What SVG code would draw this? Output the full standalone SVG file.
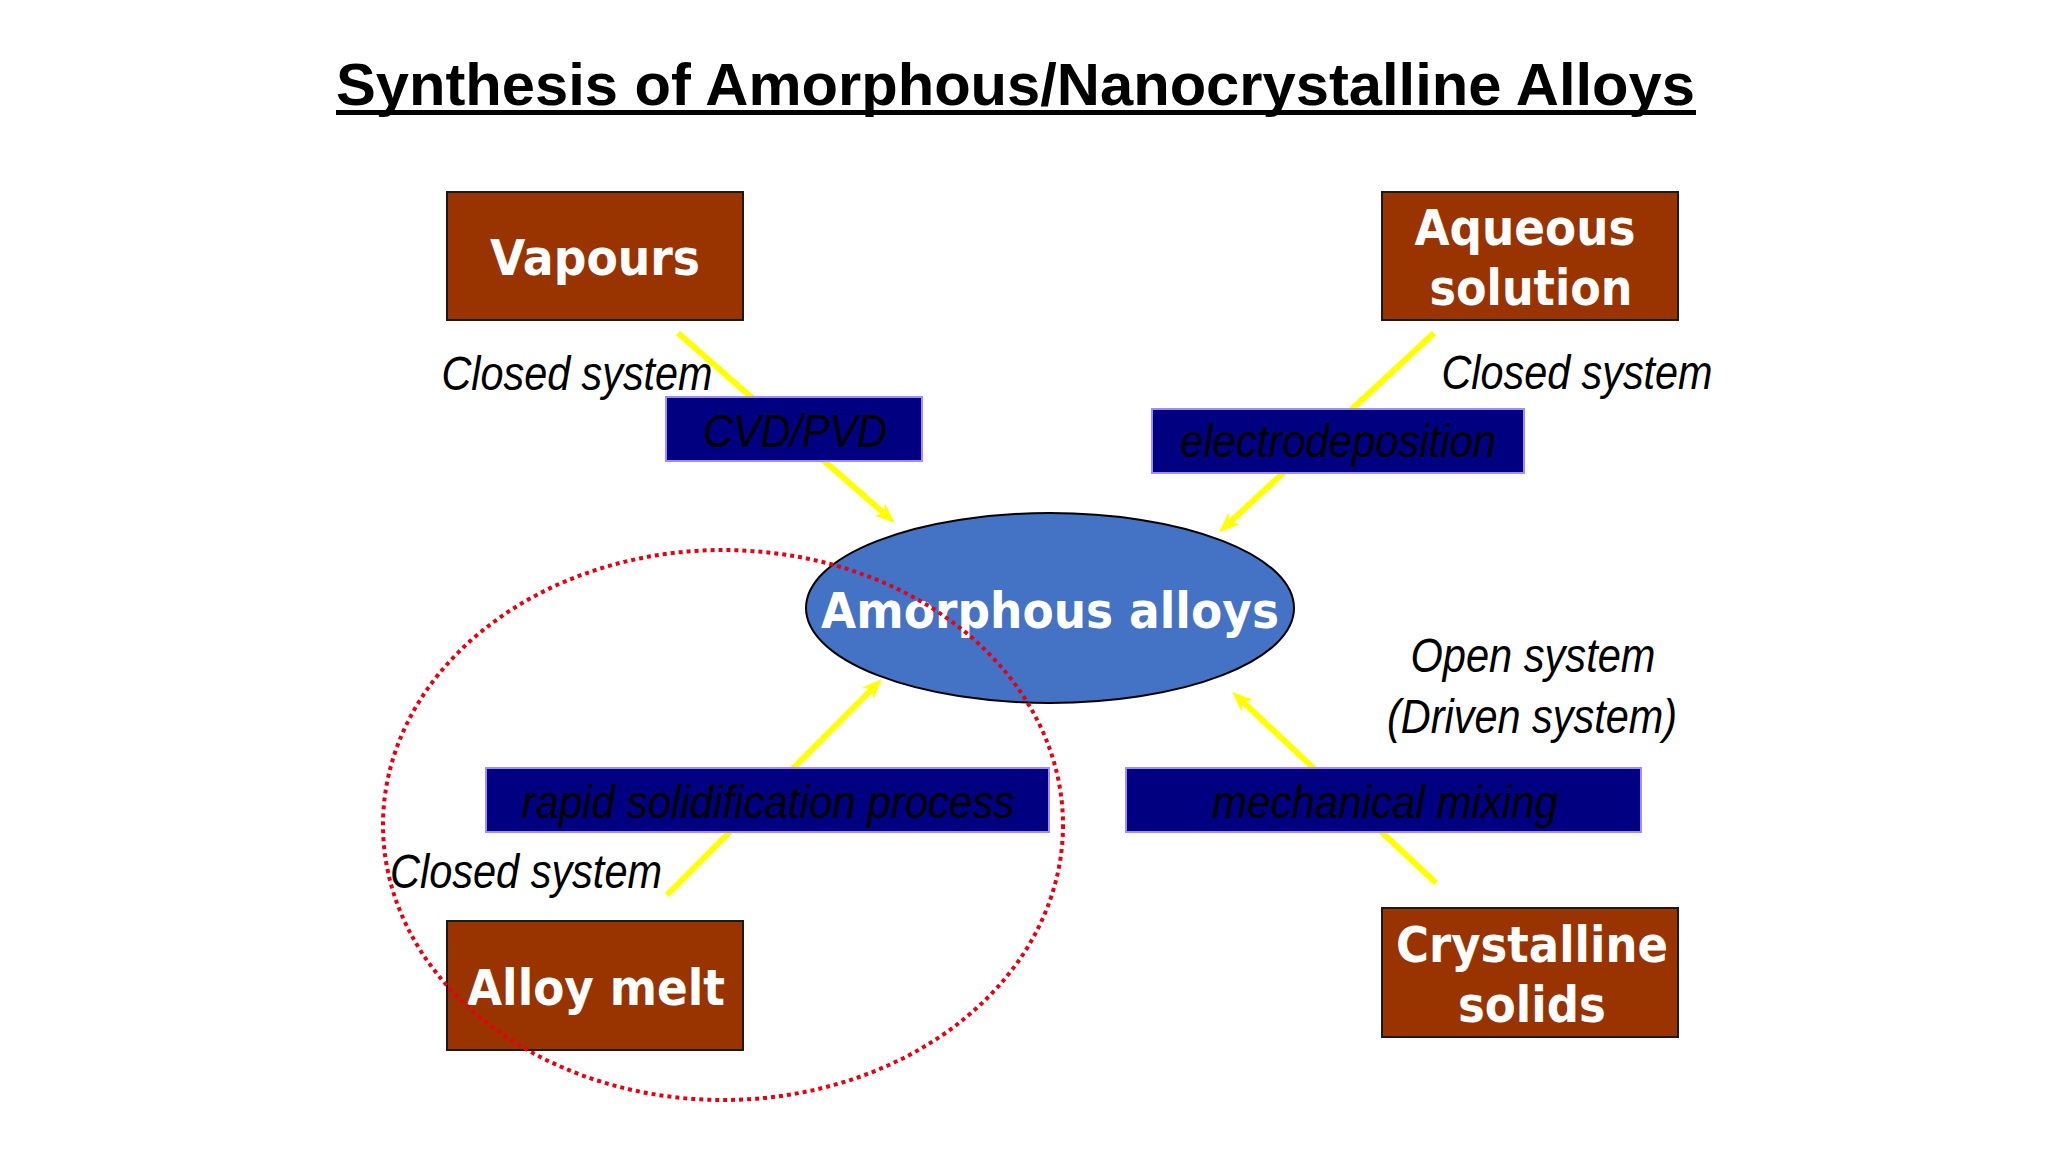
<svg xmlns="http://www.w3.org/2000/svg" width="2048" height="1152" viewBox="0 0 2048 1152">
  <style>
    .title { font-family: "Liberation Sans", Arial, sans-serif; font-weight: bold; font-size: 60px; fill: #000; }
    .box { fill: #993300; stroke: #1a1a1a; stroke-width: 2; }
    .boxtext { font-family: "DejaVu Sans", Verdana, sans-serif; font-weight: bold; font-size: 50px; fill: #fff; text-anchor: middle; }
    .proc { fill: #000080; stroke: #a08cff; stroke-width: 2; }
    .proctext { font-family: "Liberation Sans Narrow", "Liberation Sans", Arial, sans-serif; font-style: italic; font-size: 47px; fill: #000; text-anchor: middle; }
    .label { font-family: "Liberation Sans Narrow", "Liberation Sans", Arial, sans-serif; font-style: italic; font-size: 48px; fill: #000; text-anchor: middle; }
    .conn { stroke: #ffff00; stroke-width: 6; fill: none; marker-end: url(#arrow); }
  </style>
  <defs>
    <marker id="arrow" markerUnits="userSpaceOnUse" viewBox="0 0 20 16" markerWidth="20" markerHeight="16" refX="8" refY="8" orient="auto">
      <path d="M0,0 L20,8 L0,16 L5,8 z" fill="#ffff00"/>
    </marker>
  </defs>
  <rect width="2048" height="1152" fill="#ffffff"/>

  <g id="title">
    <text class="title" x="336" y="105" textLength="1359" lengthAdjust="spacingAndGlyphs">Synthesis of Amorphous/Nanocrystalline Alloys</text>
    <rect x="336" y="110" width="1360" height="5" fill="#000"/>
  </g>

  <g id="connectors">
    <line class="conn" x1="678" y1="333" x2="886" y2="515"/>
    <line class="conn" x1="1434" y1="333" x2="1228" y2="524"/>
    <line class="conn" x1="667" y1="895" x2="873.5" y2="687.5"/>
    <line class="conn" x1="1436" y1="883" x2="1241" y2="700"/>
  </g>

  <g id="vapours">
    <rect class="box" x="447" y="192" width="296" height="128"/>
    <text class="boxtext" x="595" y="275" textLength="210" lengthAdjust="spacingAndGlyphs">Vapours</text>
  </g>

  <g id="aqueous-solution">
    <rect class="box" x="1382" y="192" width="296" height="128"/>
    <text class="boxtext" x="1525" y="245" textLength="221" lengthAdjust="spacingAndGlyphs">Aqueous</text>
    <text class="boxtext" x="1531" y="305" textLength="203" lengthAdjust="spacingAndGlyphs">solution</text>
  </g>

  <g id="alloy-melt">
    <rect class="box" x="447" y="921" width="296" height="129"/>
    <text class="boxtext" x="596" y="1005" textLength="258" lengthAdjust="spacingAndGlyphs">Alloy melt</text>
  </g>

  <g id="crystalline-solids">
    <rect class="box" x="1382" y="908" width="296" height="129"/>
    <text class="boxtext" x="1532" y="962" textLength="272" lengthAdjust="spacingAndGlyphs">Crystalline</text>
    <text class="boxtext" x="1532" y="1022" textLength="148" lengthAdjust="spacingAndGlyphs">solids</text>
  </g>

  <g id="amorphous-alloys">
    <ellipse cx="1050" cy="608" rx="244" ry="95" fill="#4472c4" stroke="#000" stroke-width="2"/>
    <text class="boxtext" x="1050" y="628" font-size="52" textLength="458" lengthAdjust="spacingAndGlyphs">Amorphous alloys</text>
  </g>

  <g id="cvd-pvd">
    <rect class="proc" x="666" y="397" width="256" height="64"/>
    <text class="proctext" x="795" y="447" textLength="184" lengthAdjust="spacingAndGlyphs">CVD/PVD</text>
  </g>

  <g id="electrodeposition">
    <rect class="proc" x="1152" y="409" width="372" height="64"/>
    <text class="proctext" x="1338" y="457" textLength="316" lengthAdjust="spacingAndGlyphs">electrodeposition</text>
  </g>

  <g id="rapid-solidification">
    <rect class="proc" x="486" y="768" width="563" height="64"/>
    <text class="proctext" x="768" y="818" textLength="493" lengthAdjust="spacingAndGlyphs">rapid solidification process</text>
  </g>

  <g id="mechanical-mixing">
    <rect class="proc" x="1126" y="768" width="515" height="64"/>
    <text class="proctext" x="1385" y="818" textLength="346" lengthAdjust="spacingAndGlyphs">mechanical mixing</text>
  </g>

  <g id="labels">
    <text class="label" x="577" y="390" textLength="271" lengthAdjust="spacingAndGlyphs">Closed system</text>
    <text class="label" x="1577" y="389" textLength="271" lengthAdjust="spacingAndGlyphs">Closed system</text>
    <text class="label" x="526" y="888" textLength="272" lengthAdjust="spacingAndGlyphs">Closed system</text>
    <text class="label" x="1533" y="672" textLength="245" lengthAdjust="spacingAndGlyphs">Open system</text>
    <text class="label" x="1532" y="733" textLength="290" lengthAdjust="spacingAndGlyphs">(Driven system)</text>
  </g>

  <g id="closed-system-outline">
    <ellipse cx="723" cy="825" rx="340" ry="275" fill="none" stroke="#e60012" stroke-width="4" stroke-dasharray="4 4"/>
  </g>
</svg>
